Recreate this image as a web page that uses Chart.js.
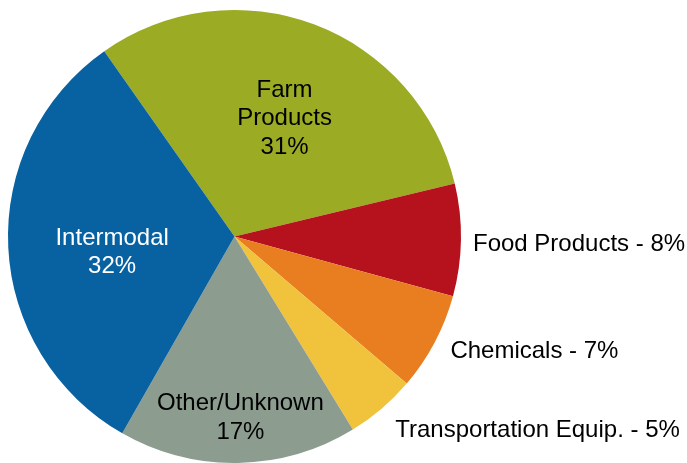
<!DOCTYPE html>
<html>
<head>
<meta charset="utf-8">
<script src="https://cdn.jsdelivr.net/npm/chart.js@4.4.0/dist/chart.umd.min.js"></script>
<style>
  html, body { margin: 0; padding: 0; background: #fff; }
  #wrap { width: 687px; height: 463px; }
</style>
</head>
<body>
<div id="wrap"><canvas id="pie"></canvas></div>
<script>
const categories = ['Farm Products', 'Food Products', 'Chemicals', 'Transportation Equip.', 'Other/Unknown', 'Intermodal'];
const shares = [31, 8, 7, 5, 17, 32];
const sliceColors = ['#9BAB23', '#B5121D', '#E87E1F', '#F1C33D', '#8C9C8F', '#0862A1'];

// how each label is drawn: inside (multi-line, centered) or outside (one line)
const labelStyle = [
    {inside: true, lines: ['Farm', 'Products'], dist: 0.58, turn: 1.7, color: '#000'},
    {inside: false, gap: 12, turn: 0},
    {inside: false, gap: 16, turn: -0.8},
    {inside: false, gap: 22, turn: 0.2},
    {inside: true, lines: ['Other/Unknown'], dist: 0.785, turn: -1, color: '#000'},
    {inside: true, lines: ['Intermodal'], dist: 0.543, turn: -3.1, color: '#fff'},
];

const sliceLabels = {
    id: 'sliceLabels',
    afterDatasetsDraw(chart) {
        const ctx = chart.ctx;
        const meta = chart.getDatasetMeta(0);
        ctx.save();
        ctx.font = '24px "Liberation Sans", Arial, sans-serif';
        ctx.textBaseline = 'middle';
        meta.data.forEach((arc, i) => {
            const st = labelStyle[i];
            const mid = (arc.startAngle + arc.endAngle) / 2 + st.turn * Math.PI / 180;
            const pct = shares[i] + '%';
            if (st.inside) {
                const d = arc.outerRadius * st.dist;
                const x = arc.x + Math.cos(mid) * d;
                const y = arc.y + Math.sin(mid) * d + 3.5;
                const lines = st.lines.concat([pct]);
                const lh = 28.5;
                ctx.fillStyle = st.color;
                ctx.textAlign = 'center';
                lines.forEach((t, k) => {
                    ctx.fillText(t, x, y + (k - (lines.length - 1) / 2) * lh);
                });
            } else {
                const d = arc.outerRadius + st.gap;
                const x = arc.x + Math.cos(mid) * d;
                const y = arc.y + Math.sin(mid) * d + 4.5;
                ctx.fillStyle = '#000';
                ctx.textAlign = 'left';
                ctx.fillText(categories[i] + ' - ' + pct, x, y);
            }
        });
        ctx.restore();
    }
};

new Chart(document.getElementById('pie'), {
    type: 'pie',
    data: {
        labels: categories,
        datasets: [{
            data: shares,
            backgroundColor: sliceColors,
            borderWidth: 0,
        }]
    },
    options: {
        responsive: true,
        maintainAspectRatio: false,
        animation: false,
        rotation: -35.1,
        layout: {padding: {left: 6, right: 224, top: 10, bottom: -4}},
        plugins: {
            legend: {display: false},
            tooltip: {enabled: false}
        }
    },
    plugins: [sliceLabels]
});
</script>
</body>
</html>
